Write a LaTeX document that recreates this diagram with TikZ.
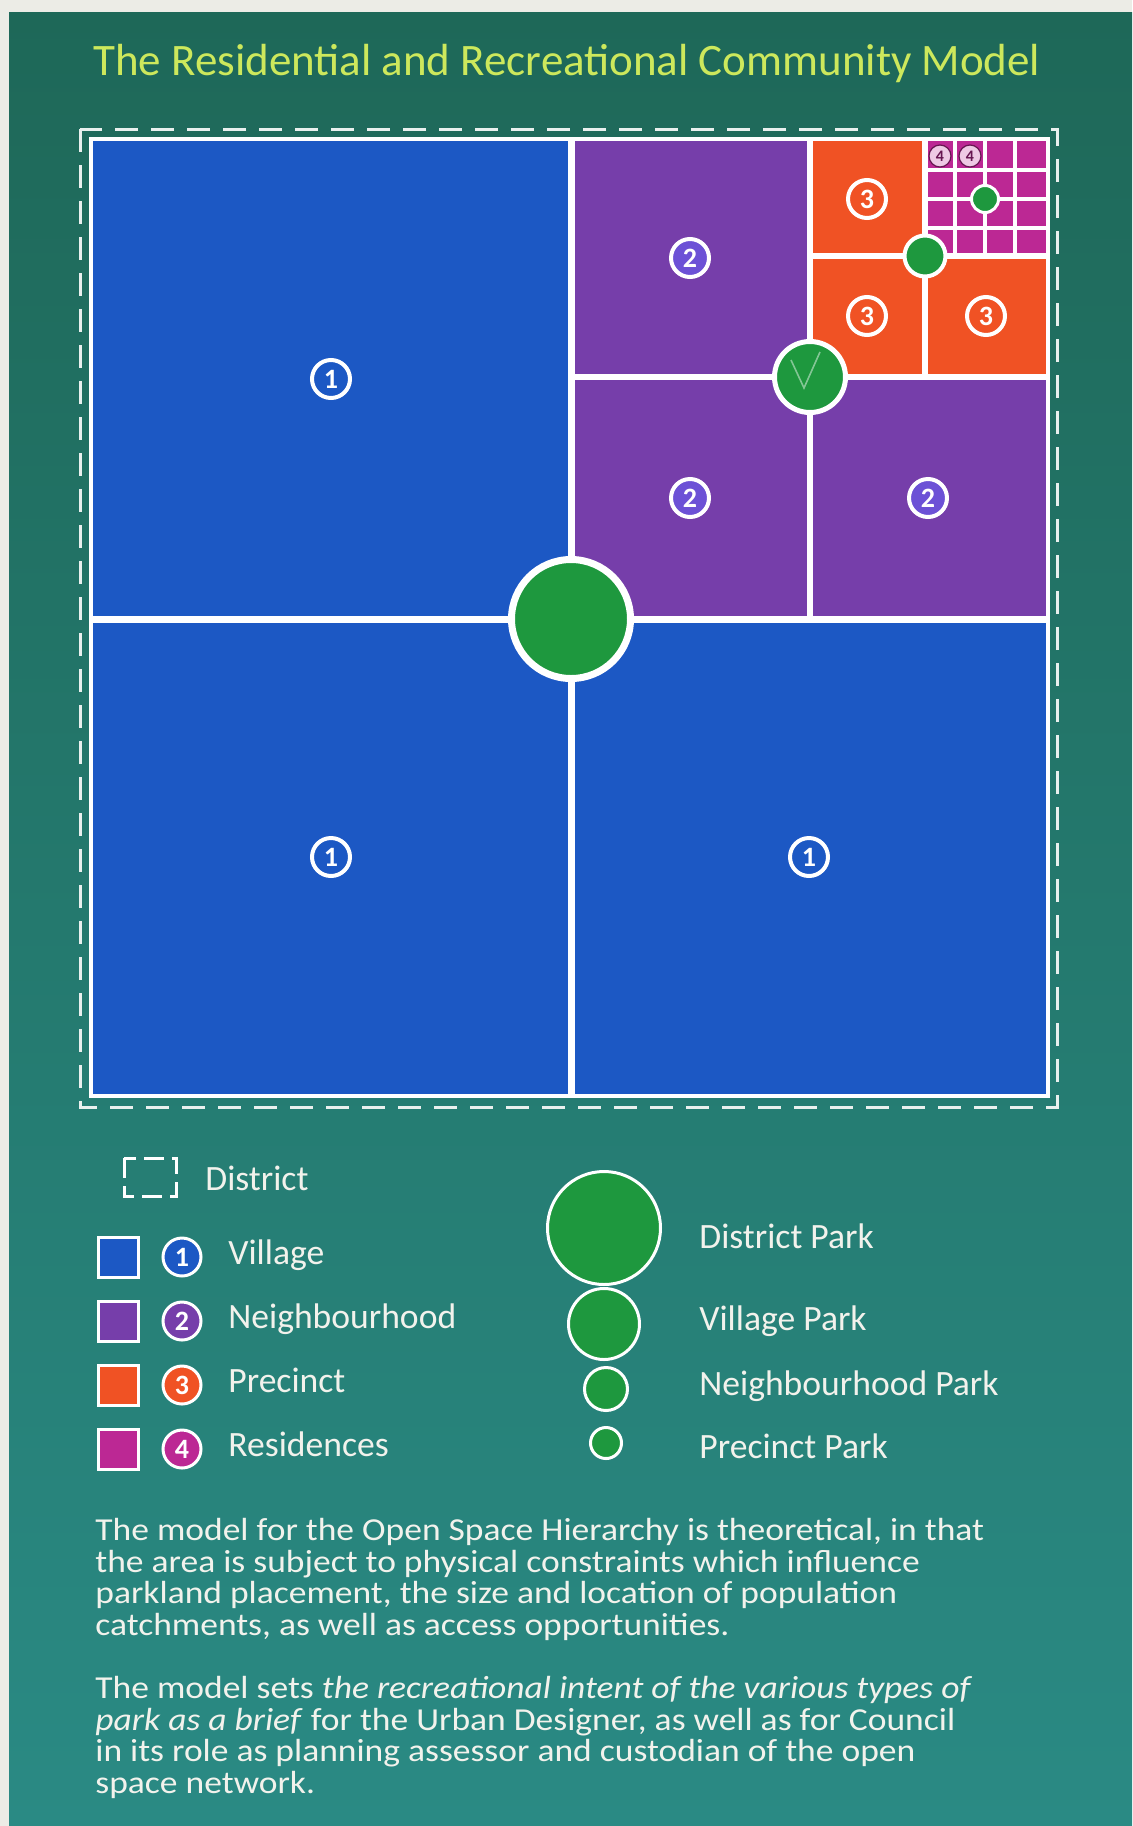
\documentclass[tikz,border=0pt]{standalone}
\usepackage{fontspec}
\setmainfont{Carlito}
\newfontfamily\bodyfont[FakeStretch=1.11]{Carlito}
\usetikzlibrary{positioning}
\definecolor{paper}{RGB}{236,236,230}
\definecolor{bgtop}{RGB}{30,104,88}
\definecolor{bgbot}{RGB}{42,138,132}
\definecolor{villblue}{RGB}{28,88,196}
\definecolor{nbhpurple}{RGB}{118,62,170}
\definecolor{precorange}{RGB}{240,82,36}
\definecolor{resmagenta}{RGB}{188,40,148}
\definecolor{parkgreen}{RGB}{30,152,62}
\definecolor{titleyellow}{RGB}{205,232,92}
\definecolor{textwhite}{RGB}{242,242,236}

\begin{document}
\begin{tikzpicture}[x=0.5pt,y=-0.5pt,
  every node/.style={text=textwhite,font=\fontsize{17.8}{20}\selectfont},
  park/.style={fill=parkgreen,draw=white},
  numring/.style={circle,draw=white,line width=2pt,minimum size=19pt,inner sep=0pt,
    font=\fontsize{14}{14}\selectfont\bfseries,text=white},
  tinyring/.style={circle,draw=resmagenta!55!black,fill=resmagenta!25!white,line width=0.6pt,
    minimum size=11pt,inner sep=0pt,font=\fontsize{8}{8}\selectfont\bfseries,text=resmagenta!55!black},
  keybox/.style={draw=white,line width=1.5pt,minimum size=20pt,inner sep=0pt},
  keylabel/.style={anchor=base west,inner sep=0pt},
  bodytext/.style={anchor=north west,inner sep=0pt,align=left,font=\bodyfont\fontsize{16}{15.8}\selectfont},
  cross/.style={draw=white,line width=#1}]
\useasboundingbox (0,0) rectangle (1132,1826);
\fill[paper] (0,0) rectangle (1132,1826);
\shade[top color=bgtop,bottom color=bgbot] (9,12) rectangle (1132,1826);

\node[keylabel,text=titleyellow,font=\fontsize{22.5}{24}\selectfont] (title) at (93,75)
  {The Residential and Recreational Community Model};

\coordinate (dp) at (571,619);
\coordinate (vp) at (810,377);
\coordinate (np) at (925,256);
\coordinate (pp) at (985,199);

\fill[white] (89,137) rectangle (1050,1098);
\fill[villblue] (93,141) rectangle (1046,1094);
\fill[nbhpurple] (571,141) rectangle (1046,619);
\fill[precorange] (810,141) rectangle (1046,377);
\fill[resmagenta] (925,141) rectangle (1046,256);
\draw[cross=3.5pt] (571,139)--(571,1096) (91,619)--(1048,619);
\draw[cross=3pt] (810,139)--(810,619) (571,377)--(1048,377);
\draw[cross=3pt] (925,139)--(925,377) (810,256)--(1048,256);
\foreach \gx in {955,985,1015} \draw[cross=2pt] (\gx,139)--(\gx,256);
\foreach \gy in {170,199,228} \draw[cross=2pt] (925,\gy)--(1048,\gy);
\draw[white!90!bgtop,line width=1.5pt,dash pattern=on 11.5pt off 6.5pt] (80,129) rectangle (1057,1107);

\draw[park,line width=3.5pt] (dp) circle (59.5);
\draw[park,line width=2.5pt] (vp) circle (35.5);
\draw[park,line width=2pt] (np) circle (20.5);
\draw[park,line width=1.5pt] (pp) circle (13.5);
\draw[parkgreen!55!white,line width=0.8pt] (791,360)--(804,388)--(820,352);

\node[numring] (v1) at (331,379) {1};
\node[numring] (v2) at (331,857) {1};
\node[numring] (v3) at (809,857) {1};
\node[numring,fill=nbhpurple!60!blue!80!white] (n1) at (690,258) {2};
\node[numring,fill=nbhpurple!60!blue!80!white] (n2) at (690,498) {2};
\node[numring,fill=nbhpurple!60!blue!80!white] (n3) at (928,498) {2};
\node[numring] (p1) at (867,199) {3};
\node[numring] (p2) at (867,316) {3};
\node[numring] (p3) at (986,316) {3};
\node[tinyring] (r1) at (940,156) {4};
\node[tinyring] (r2) at (970,156) {4};

\draw[white,line width=1.5pt,dash pattern=on 10pt off 4pt] (124,1158) rectangle (176,1196);
\node[keylabel] (kdist) at (205,1190) {District};
\foreach \yy/\col/\num/\lab in {1257/villblue/1/Village,1321/nbhpurple/2/Neighbourhood,
    1385/precorange/3/Precinct,1449/resmagenta/4/Residences}{
  \node[keybox,fill=\col] (key\num) at (118,\yy) {};
  \node[numring,fill=\col,line width=1.5pt] (knum\num) at (182,\yy) {\num};
  \node[keylabel] (klab\num) at (228,\yy+7) {\lab};
}

\coordinate (kp1) at (604,1228);
\coordinate (kp2) at (604,1324);
\coordinate (kp3) at (606,1389);
\coordinate (kp4) at (606,1443);
\draw[park,line width=1.5pt] (kp1) circle (56.5);
\draw[park,line width=1.5pt] (kp2) circle (35.5);
\draw[park,line width=1.5pt] (kp3) circle (21.5);
\draw[park,line width=1.5pt] (kp4) circle (15.5);
\node[keylabel] (kpl1) at (699,1248) {District Park};
\node[keylabel] (kpl2) at (699,1330) {Village Park};
\node[keylabel] (kpl3) at (699,1395) {Neighbourhood Park};
\node[keylabel] (kpl4) at (699,1458) {Precinct Park};

\node[bodytext] (para1) at (95,1518)
  {The model for the Open Space Hierarchy is theoretical, in that\\
   the area is subject to physical constraints which influence\\
   parkland placement, the size and location of population\\
   catchments, as well as access opportunities.};
\node[bodytext] (para2) at (95,1676)
  {The model sets \textit{the recreational intent of the various types of}\\
   \textit{park as a brief} for the Urban Designer, as well as for Council\\
   in its role as planning assessor and custodian of the open\\
   space network.};
\end{tikzpicture}
\end{document}
